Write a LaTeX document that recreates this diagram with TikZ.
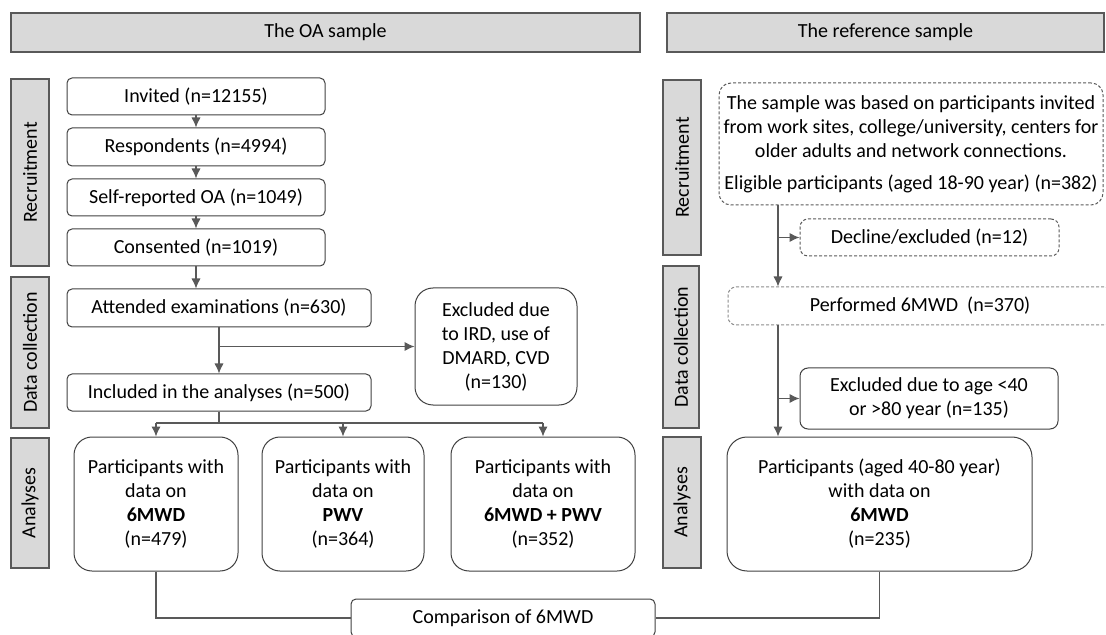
\documentclass[tikz,border=0pt]{standalone}
\usepackage{fontspec}
\setmainfont{Carlito}
\usetikzlibrary{arrows.meta}

\definecolor{bandgray}{HTML}{D9D9D9}
\definecolor{edgegray}{HTML}{595959}
\definecolor{linegray}{HTML}{404040}
\definecolor{softgray}{HTML}{8C8C8C}

\begin{document}
\begin{tikzpicture}[x=0.5pt,y=-0.5pt,>={Latex[length=5pt,width=4.6pt]},
  every node/.style={font=\fontsize{10}{12}\selectfont, align=center, inner sep=0pt},
  sz/.style 2 args={minimum width=#1*0.5pt, minimum height=#2*0.5pt},
  band/.style={draw=edgegray, fill=bandgray, line width=0.6pt},
  side/.style={band, rotate=90},
  stage/.style={draw=linegray, rounded corners=2.5pt, line width=0.5pt},
  bigstage/.style={stage, rounded corners=9pt},
  refstage/.style={draw=edgegray, dash pattern=on 1.5pt off 1pt, rounded corners=4pt, line width=0.5pt},
  link/.style={draw=edgegray, line width=0.55pt}]
  \useasboundingbox (0,0) rectangle (1106,635);

  % column headers
  \node[band, sz={629}{39}] (oahead) at (325.5,32.5) {The OA sample};
  \node[band, sz={437}{39}] (refhead) at (885.5,32.5) {The reference sample};

  % stage labels
  \node[side, sz={187}{38}] (oarec) at (30,172.5) {Recruitment};
  \node[side, sz={151}{38}] (oacol) at (30,352.5) {Data collection};
  \node[side, sz={130}{38}] (oaana) at (30,503) {Analyses};
  \node[side, sz={175}{38}] (rrec) at (682,167.5) {Recruitment};
  \node[side, sz={162}{36}] (rcol) at (681,347) {Data collection};
  \node[side, sz={131}{38}] (rana) at (682,502.5) {Analyses};

  % the OA sample
  \node[stage, sz={258}{37}] (invited) at (196,96.5) {Invited (n=12155)};
  \node[stage, sz={258}{38}] (resp) at (196,147) {Respondents (n=4994)};
  \node[stage, sz={258}{37}] (selfrep) at (196,197.5) {Self-reported OA (n=1049)};
  \node[stage, sz={258}{37}] (consent) at (196,247.5) {Consented (n=1019)};
  \node[stage, sz={304}{38}] (attend) at (219,308) {Attended examinations (n=630)};
  \node[stage, sz={304}{37}] (incl) at (219,392.5) {Included in the analyses (n=500)};
  \node[bigstage, sz={162}{117}] (excl) at (496,346.5) {Excluded due\\to IRD, use of\\DMARD, CVD\\(n=130)};
  \node[bigstage, sz={164}{134}] (ana1) at (156,504) {Participants with\\data on\\\textbf{6MWD}\\(n=479)};
  \node[bigstage, sz={162}{134}] (ana2) at (343,504) {Participants with\\data on\\\textbf{PWV}\\(n=364)};
  \node[bigstage, sz={184}{134}] (ana3) at (543,504) {Participants with\\data on\\\textbf{6MWD + PWV}\\(n=352)};
  \node[stage, sz={304}{38}] (comp) at (503,618) {Comparison of 6MWD};

  % the reference sample
  \node[refstage, rounded corners=6pt, sz={384}{122}] (refrec) at (911,144) {The sample was based on participants invited\\from work sites, college/university, centers for\\older adults and network connections.\\[4pt]Eligible participants (aged 18-90 year) (n=382)};
  \node[refstage, sz={259}{37}] (decline) at (929.5,237.5) {Decline/excluded (n=12)};
  \node[refstage, draw=softgray, sz={384}{38}] (perf) at (920,306) {Performed 6MWD~~(n=370)};
  \node[stage, rounded corners=4pt, sz={258}{61}] (ageexcl) at (929,398.5) {Excluded due to age <40\\or >80 year (n=135)};
  \node[bigstage, rounded corners=10pt, sz={305}{134}] (refana) at (879.5,504) {Participants (aged 40-80 year)\\with data on\\\textbf{6MWD}\\(n=235)};

  % OA flow
  \draw[link,->] (invited) -- (resp);
  \draw[link,->] (resp) -- (selfrep);
  \draw[link,->] (selfrep) -- (consent);
  \draw[link,->] (consent.south) -- (consent.south |- attend.north);
  \draw[link,->] (attend) -- (incl);
  \draw[link,->] (attend.south |- excl.west) -- (excl.west);
  \coordinate (fork) at (219,423);
  \draw[link] (incl.south) -- (fork);
  \draw[link] (fork -| ana1.north) -- (fork -| ana3.north);
  \foreach \b in {ana1,ana2,ana3}
    \draw[link,->] (fork -| \b.north) -- (\b.north);
  \draw[link] (ana1.south) |- (comp.west);
  \draw[link] (refana.south) |- (comp.east);

  % reference flow
  \coordinate (rtrunk) at (778,0);
  \draw[link,->] (rtrunk |- refrec.south) -- (rtrunk |- perf.north);
  \draw[link,->] (rtrunk |- decline.west) -- (decline.west);
  \draw[link,->] (rtrunk |- perf.south) -- (rtrunk |- refana.north);
  \draw[link,->] (rtrunk |- ageexcl.west) -- (ageexcl.west);
\end{tikzpicture}
\end{document}
